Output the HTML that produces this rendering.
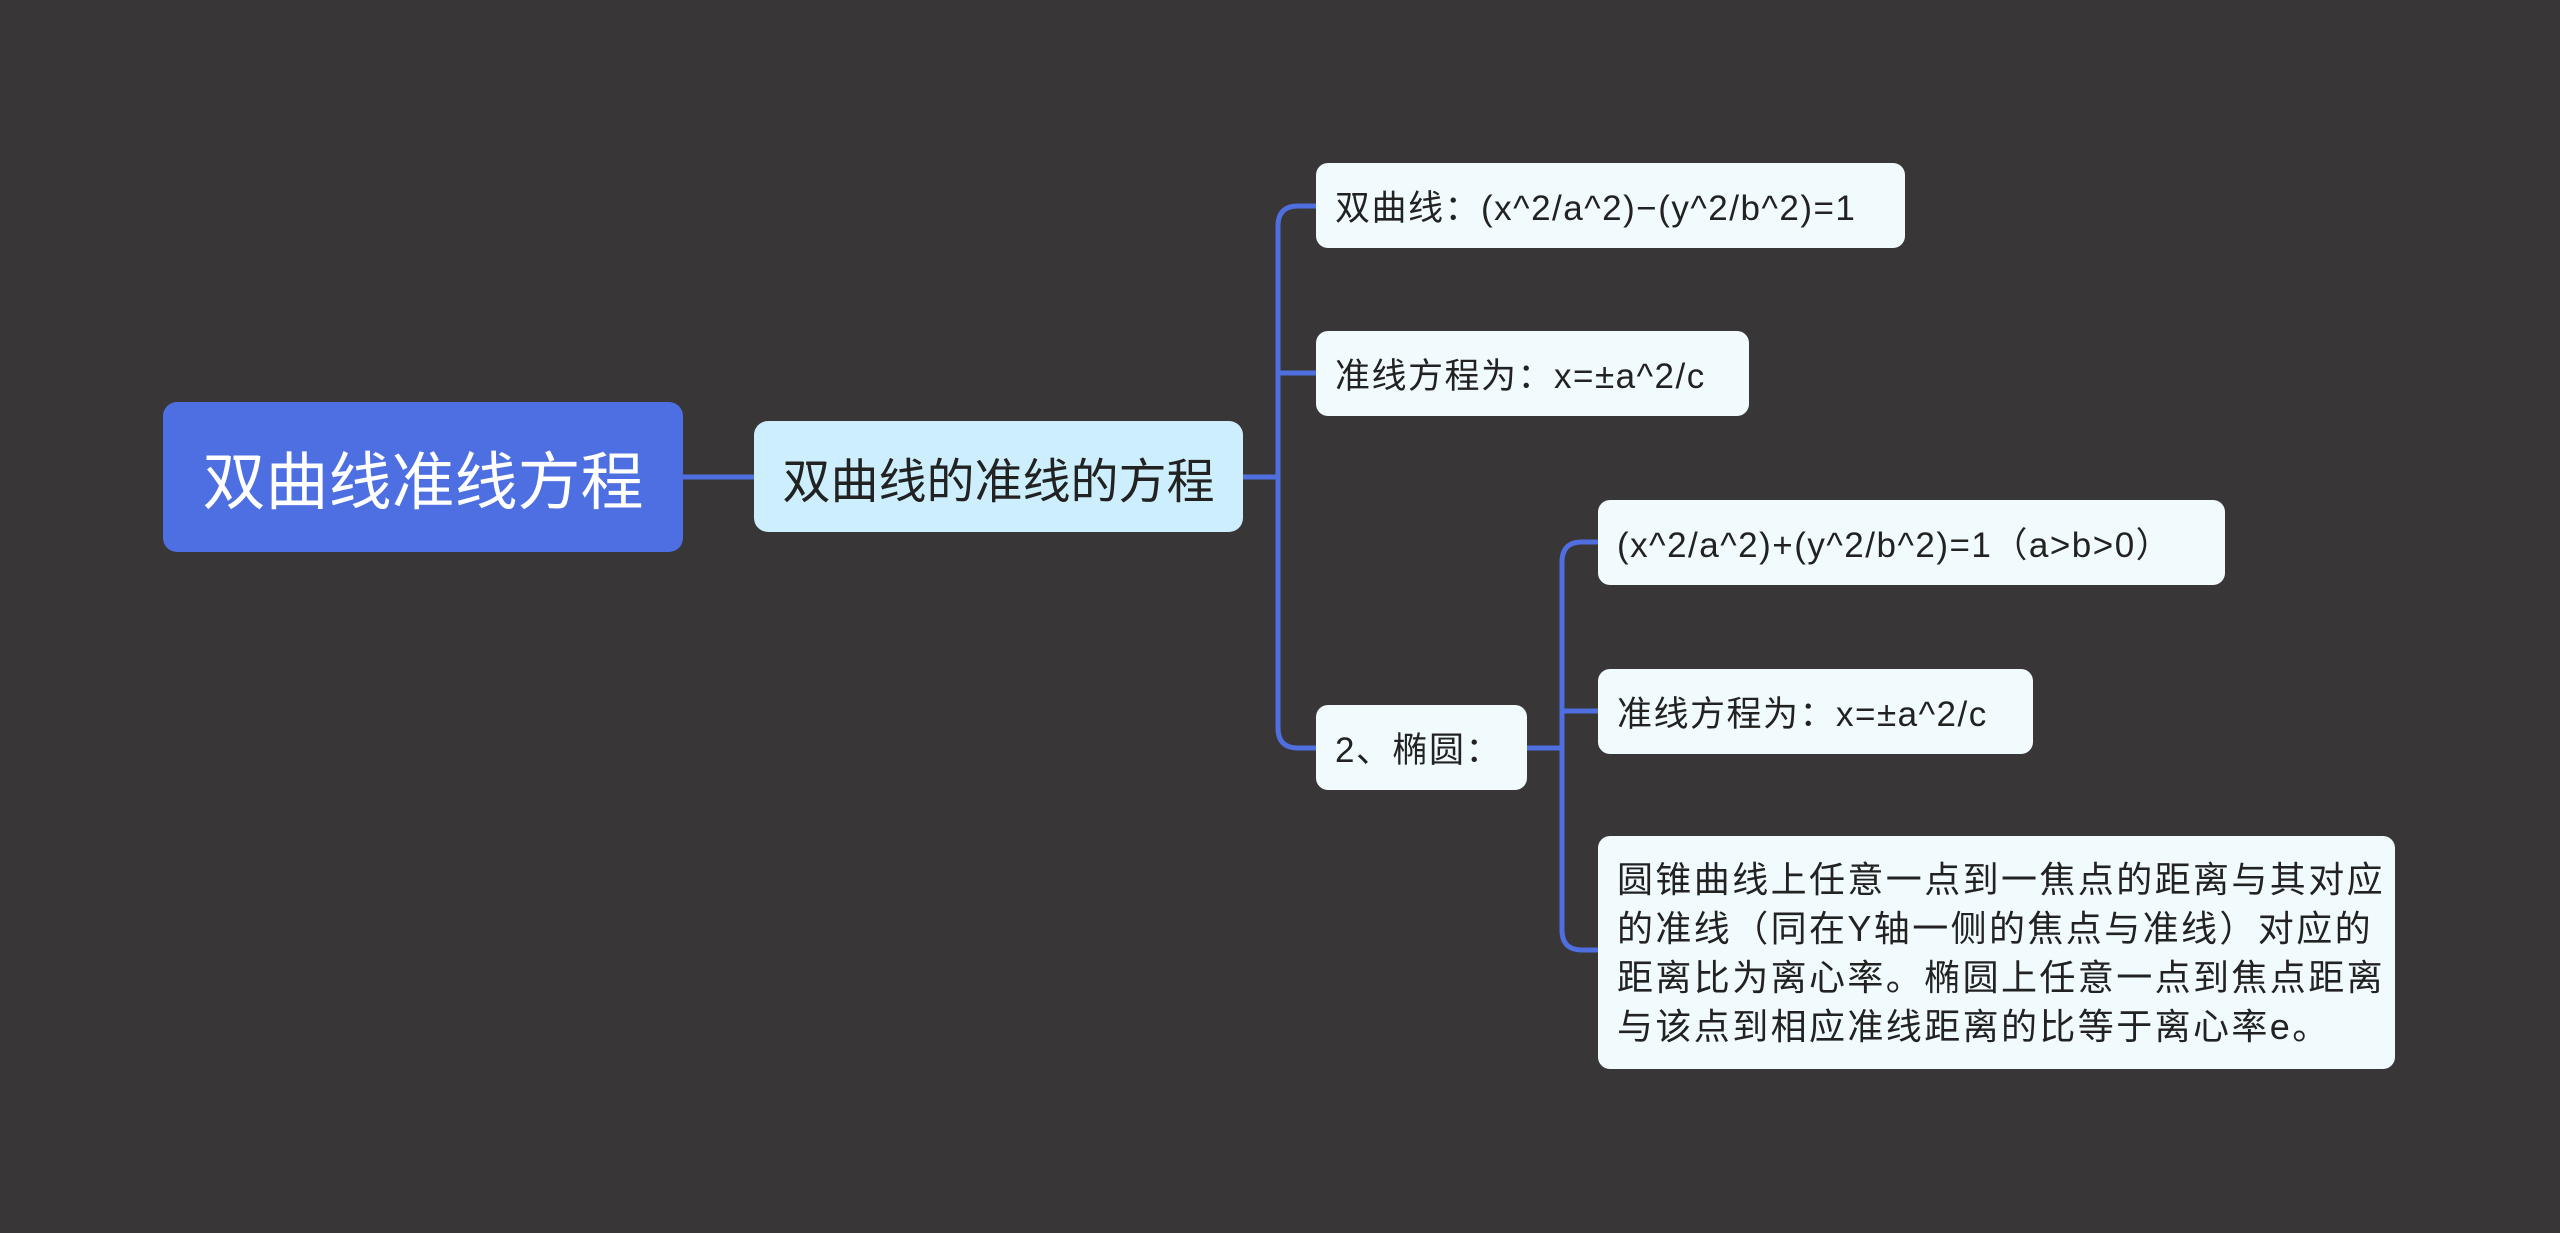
<!DOCTYPE html>
<html><head><meta charset="utf-8"><style>
html,body{margin:0;padding:0}
body{width:2560px;height:1233px;background:#383637;position:relative;overflow:hidden;font-family:"Liberation Sans","Noto Sans CJK SC",sans-serif}
.n{position:absolute;box-sizing:border-box;display:flex;align-items:center;color:#222;white-space:nowrap}
.leaf{background:#f1fbfd;border-radius:12px;font-size:35px;letter-spacing:1.5px;padding-left:19px}
</style></head><body>
<svg width="2560" height="1233" style="position:absolute;left:0;top:0">
<g fill="none" stroke="#4f6fe0" stroke-width="5">
<path d="M683 477 H754"/>
<path d="M1243 477 H1278"/>
<path d="M1316 206 H1298 Q1278 206 1278 226 V728 Q1278 748 1298 748 H1316"/>
<path d="M1278 373 Q1278 373 1298 373 H1316"/>
<path d="M1527 748 H1562"/>
<path d="M1598 542 H1582 Q1562 542 1562 562 V930 Q1562 950 1582 950 H1598"/>
<path d="M1562 711 H1598"/>
</g></svg>
<div class="n" style="left:163px;top:402px;width:520px;height:150px;background:#4e6fe1;border-radius:14px;color:#fff;font-size:63px;justify-content:center">双曲线准线方程</div>
<div class="n" style="left:754px;top:421px;width:489px;height:111px;background:#cdeefc;border-radius:14px;font-size:48px;justify-content:center">双曲线的准线的方程</div>
<div class="n leaf" style="left:1316px;top:163px;width:589px;height:85px">双曲线：(x^2/a^2)−(y^2/b^2)=1</div>
<div class="n leaf" style="left:1316px;top:331px;width:433px;height:85px">准线方程为：x=±a^2/c</div>
<div class="n leaf" style="left:1316px;top:705px;width:211px;height:85px">2、椭圆：</div>
<div class="n leaf" style="left:1598px;top:500px;width:627px;height:85px">(x^2/a^2)+(y^2/b^2)=1（a&gt;b&gt;0）</div>
<div class="n leaf" style="left:1598px;top:669px;width:435px;height:85px">准线方程为：x=±a^2/c</div>
<div class="n leaf" style="left:1598px;top:836px;width:797px;height:233px;font-size:36px;line-height:49px;letter-spacing:2.4px;align-items:center"><div>圆锥曲线上任意一点到一焦点的距离与其对应<br>的准线（同在Y轴一侧的焦点与准线）对应的<br>距离比为离心率。椭圆上任意一点到焦点距离<br>与该点到相应准线距离的比等于离心率e。</div></div>
</body></html>
